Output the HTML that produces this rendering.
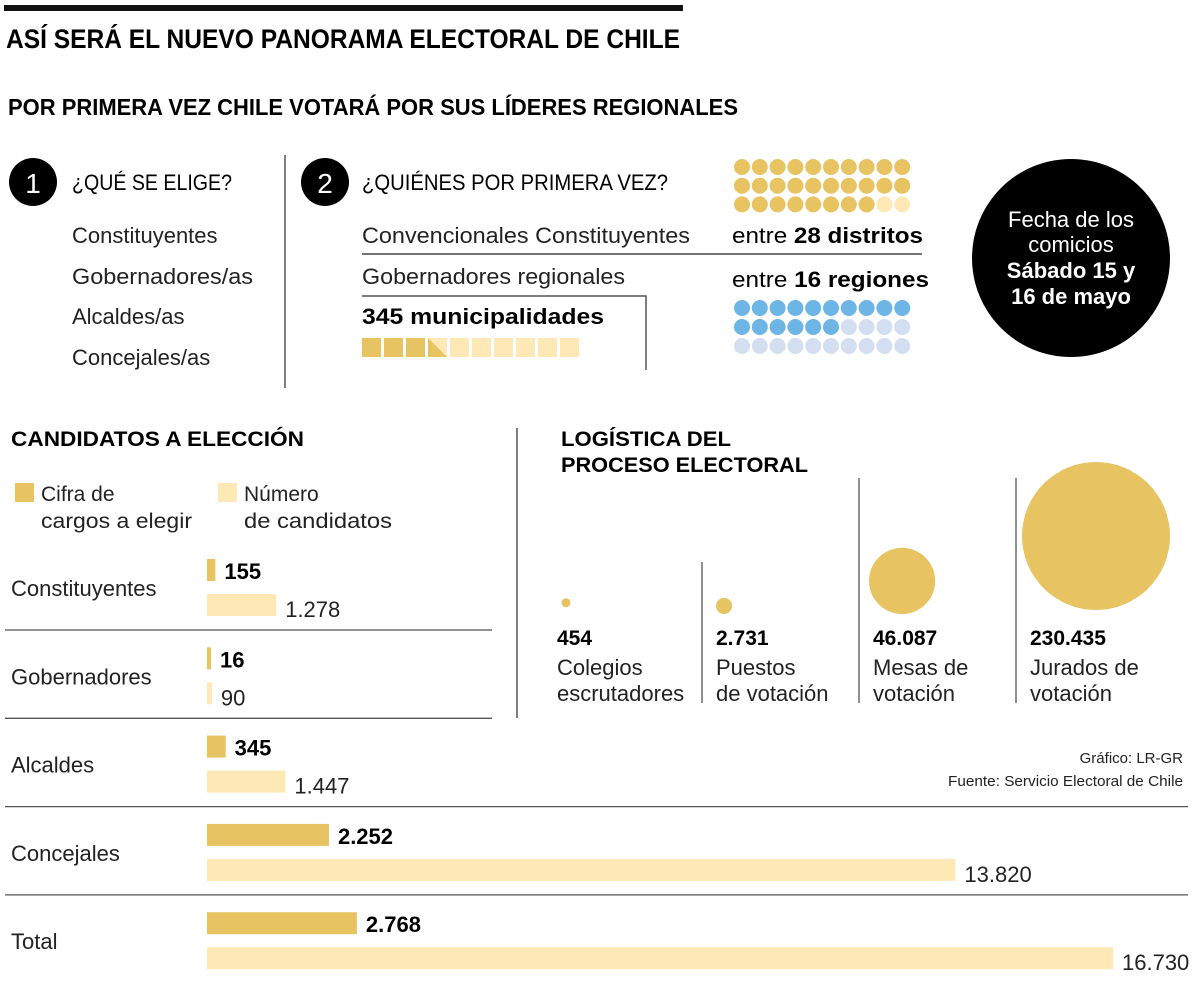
<!DOCTYPE html>
<html><head><meta charset="utf-8"><style>
html,body{margin:0;padding:0;background:#fff}
svg{display:block;font-family:"Liberation Sans",sans-serif}
.n{font-family:"Liberation Sans Narrow","Liberation Sans",sans-serif}
</style></head><body>
<svg id="c" width="1200" height="984" viewBox="0 0 1200 984">
<rect x="4" y="5" width="679" height="6" fill="#111"/>
<text x="6" y="48" class="n" font-size="27" font-weight="bold" textLength="674" lengthAdjust="spacingAndGlyphs">ASÍ SERÁ EL NUEVO PANORAMA ELECTORAL DE CHILE</text>
<text x="8" y="115" class="n" font-size="23" font-weight="bold" textLength="730" lengthAdjust="spacingAndGlyphs">POR PRIMERA VEZ CHILE VOTARÁ POR SUS LÍDERES REGIONALES</text>

<circle cx="33" cy="182" r="24" fill="#000"/>
<text x="33" y="193" font-size="28" fill="#fff" text-anchor="middle">1</text>
<text x="72" y="190" font-size="22" textLength="160" lengthAdjust="spacingAndGlyphs">¿QUÉ SE ELIGE?</text>
<g font-size="22" fill="#222">
<text x="72" y="243">Constituyentes</text>
<text x="72" y="284" textLength="181" lengthAdjust="spacingAndGlyphs">Gobernadores/as</text>
<text x="72" y="324">Alcaldes/as</text>
<text x="72" y="365">Concejales/as</text>
</g>
<line x1="285" y1="155" x2="285" y2="388" stroke="#555" stroke-width="1.5"/>
<circle cx="325" cy="182" r="24" fill="#000"/>
<text x="325" y="193" font-size="28" fill="#fff" text-anchor="middle">2</text>
<text x="362" y="190" font-size="22" textLength="306" lengthAdjust="spacingAndGlyphs">¿QUIÉNES POR PRIMERA VEZ?</text>
<text x="362" y="243" font-size="22" fill="#222" textLength="328" lengthAdjust="spacingAndGlyphs">Convencionales Constituyentes</text>
<text x="732" y="243" font-size="22" textLength="191" lengthAdjust="spacingAndGlyphs">entre <tspan font-weight="bold">28 distritos</tspan></text>
<line x1="362" y1="254" x2="922" y2="254" stroke="#444" stroke-width="1.5"/>
<text x="362" y="284" font-size="22" fill="#222" textLength="263" lengthAdjust="spacingAndGlyphs">Gobernadores regionales</text>
<text x="732" y="287" font-size="22" textLength="197" lengthAdjust="spacingAndGlyphs">entre <tspan font-weight="bold">16 regiones</tspan></text>
<polyline points="362,296 646,296 646,370" fill="none" stroke="#555" stroke-width="1.5"/>
<text x="362" y="324" font-size="22" font-weight="bold" textLength="242" lengthAdjust="spacingAndGlyphs">345 municipalidades</text>
<g id="dots"></g>
<g id="squares"></g>

<circle cx="1071" cy="258" r="99" fill="#000"/>
<g font-size="22" fill="#fff" text-anchor="middle">
<text x="1071" y="227">Fecha de los</text>
<text x="1071" y="252">comicios</text>
<text x="1071" y="278" font-weight="bold">Sábado 15 y</text>
<text x="1071" y="304" font-weight="bold">16 de mayo</text>
</g>

<text x="11" y="446" font-size="21" font-weight="bold" textLength="293" lengthAdjust="spacingAndGlyphs">CANDIDATOS A ELECCIÓN</text>
<rect x="15" y="483" width="19" height="19" fill="#E8C361"/>
<text x="41" y="501" font-size="21" fill="#222">Cifra de</text>
<text x="41" y="528" font-size="21" fill="#222" textLength="151" lengthAdjust="spacingAndGlyphs">cargos a elegir</text>
<rect x="218" y="483" width="19" height="19" fill="#FDE8B6"/>
<text x="244" y="501" font-size="21" fill="#222">Número</text>
<text x="244" y="528" font-size="21" fill="#222" textLength="148" lengthAdjust="spacingAndGlyphs">de candidatos</text>
<g id="bars"></g>

<line x1="517" y1="428" x2="517" y2="718" stroke="#555" stroke-width="1.5"/>
<text x="561" y="446" font-size="21" font-weight="bold" class="n" textLength="170" lengthAdjust="spacingAndGlyphs">LOGÍSTICA DEL</text>
<text x="561" y="472" font-size="21" font-weight="bold" class="n" textLength="247" lengthAdjust="spacingAndGlyphs">PROCESO ELECTORAL</text>
<g id="bubbles"></g>
<g font-size="15" fill="#222" text-anchor="end" class="n">
<text x="1183" y="763">Gráfico: LR-GR</text>
<text x="1183" y="786" textLength="235" lengthAdjust="spacingAndGlyphs">Fuente: Servicio Electoral de Chile</text>
</g>
</svg>
<script>
const categories = ["Constituyentes","Gobernadores","Alcaldes","Concejales","Total"];
const cargos = [155,16,345,2252,2768];
const candidatos = [1278,90,1447,13820,16730];
const cargosLabels = ["155","16","345","2.252","2.768"];
const candidatosLabels = ["1.278","90","1.447","13.820","16.730"];
const logLabels = ["Colegios|escrutadores","Puestos|de votación","Mesas de|votación","Jurados de|votación"];
const logValues = [454,2731,46087,230435];
const logValueLabels = ["454","2.731","46.087","230.435"];
const distritosFilled = 28, distritosTotal = 30;
const regionesFilled = 16, regionesTotal = 30;
const municipalidadesFilled = 3.5, municipalidadesTotal = 10;

const NS="http://www.w3.org/2000/svg";
function mk(tag,attrs,parent){const e=document.createElementNS(NS,tag);for(const k in attrs)e.setAttribute(k,attrs[k]);parent.appendChild(e);return e;}
const GOLD="#E8C361", LIGHT="#FDE8B6", BLUE="#6CB5E4", PBLUE="#D3DFF0";

const dots=document.getElementById('dots');
for(let i=0;i<distritosTotal;i++){
  const c=mk('circle',{cx:742+(i%10)*17.8,cy:167+Math.floor(i/10)*18.7,r:8,fill:i<distritosFilled?GOLD:LIGHT},dots);
  
  
}
for(let i=0;i<regionesTotal;i++){
  const c=mk('circle',{cx:742+(i%10)*17.8,cy:308+Math.floor(i/10)*19,r:8,fill:i<regionesFilled?BLUE:PBLUE},dots);
  
  
}
const sq=document.getElementById('squares');
for(let i=0;i<municipalidadesTotal;i++){
  const x=362+i*22, y=338;
  const r=mk('rect',{x:x,y:y,width:19,height:19,fill:i<Math.floor(municipalidadesFilled)?GOLD:LIGHT},sq);
  
  
  if(i===Math.floor(municipalidadesFilled)&&municipalidadesFilled%1>0){
    const p=mk('polygon',{points:`${x},${y} ${x},${y+19} ${x+19},${y+19}`,fill:GOLD},sq);
    
    
  }
}

const bars=document.getElementById('bars');
const x0=207, xMax=candidatos.reduce((a,b)=>Math.max(a,b),0);
const xs=v=>Math.max(v*906/xMax,4);
categories.forEach((cat,i)=>{
  const top=559+i*88.3;
  const t=mk('text',{x:11,y:top+37,'font-size':22,fill:'#222'},bars);t.textContent=cat;
  
  
  const w1=xs(cargos[i]);
  const b1=mk('rect',{x:x0,y:top,width:w1,height:22,fill:GOLD},bars);
  
  
  const l1=mk('text',{x:x0+w1+9,y:top+20,'font-size':22,'font-weight':'bold'},bars);l1.textContent=cargosLabels[i];
  
  
  const w2=xs(candidatos[i]);
  const b2=mk('rect',{x:x0,y:top+35,width:w2,height:22,fill:LIGHT},bars);
  
  
  const l2=mk('text',{x:x0+w2+9,y:top+58,'font-size':22,fill:'#222'},bars);l2.textContent=candidatosLabels[i];
  
  
  if(i<categories.length-1){
    const ln=mk('line',{x1:5,x2:i<2?492:1188,y1:top+71,y2:top+71,stroke:'#555','stroke-width':1.3},bars);
    
    
  }
});

const bub=document.getElementById('bubbles');
const colX=[557,716,873,1030];
const maxV=logValues.reduce((a,b)=>Math.max(a,b),0);
const rs=v=>74*Math.sqrt(v/maxV);
const sepTop=[0,562,478,478];
logValues.forEach((v,i)=>{
  const r=rs(v);
  const rr=Math.max(r,4.5);
  const c=mk('circle',{cx:colX[i]+(i===0?9:r+(i===3?-8:(i===2?-4:0))),cy:(i===3?610:614)-r-(i===0?8:0),r:rr,fill:GOLD},bub);
  
  
  const t=mk('text',{x:colX[i],y:645,'font-size':21,'font-weight':'bold'},bub);t.textContent=logValueLabels[i];
  
  
  logLabels[i].split('|').forEach((s,j)=>{
    const l=mk('text',{x:colX[i],y:675+j*26,'font-size':22,fill:'#222'},bub);l.textContent=s;
    
    
  });
  if(i>0){
    const ln=mk('line',{x1:colX[i]-14,x2:colX[i]-14,y1:sepTop[i],y2:703,stroke:'#555','stroke-width':1.3},bub);
    
    
  }
});
</script>
</body></html>
